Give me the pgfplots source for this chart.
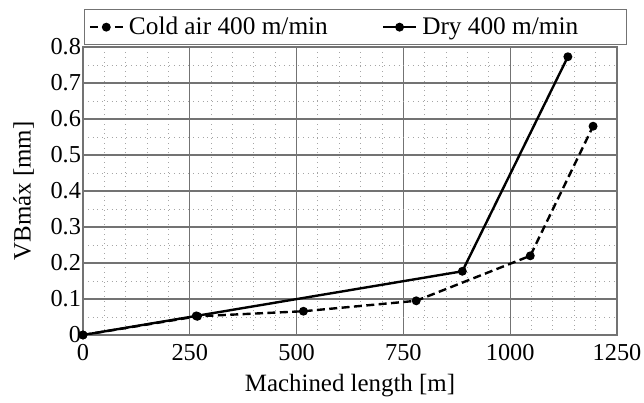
\documentclass[border=0pt]{standalone}
\usepackage{fontspec}
\setmainfont{Liberation Serif}
\usepackage{pgfplots}
\pgfplotsset{compat=1.18}

\definecolor{majgrid}{RGB}{115,115,115}
\definecolor{mingrid}{RGB}{165,165,165}

\begin{document}
\begin{tikzpicture}
% fixed canvas around the axis
\path[use as bounding box] (-41.5bp,-34bp) rectangle (280.5bp,167.5bp);
\begin{axis}[
  at={(0,0)}, anchor=south west,
  width=267bp, height=144bp,
  scale only axis,
  xmin=0, xmax=1250, ymin=0, ymax=0.8,
  xtick={0,250,500,750,1000,1250},
  ytick={0,0.1,0.2,0.3,0.4,0.5,0.6,0.7,0.8},
  yticklabels={0,0.1,0.2,0.3,0.4,0.5,0.6,0.7,0.8},
  minor x tick num=4,
  minor y tick num=1,
  grid=both,
  major grid style={majgrid, line width=0.6pt},
  minor grid style={mingrid, dotted, line width=0.5pt},
  axis line style={majgrid, line width=0.8pt},
  tick style={draw=none},
  /pgf/number format/assume math mode=true,
  /pgf/number format/1000 sep={},
  ticklabel style={font=\fontsize{12.2}{14}\selectfont},
  xticklabel style={yshift=-1bp},
  yticklabel style={xshift=2.5bp},
  label style={font=\fontsize{12.5}{14}\selectfont},
  xlabel={Machined length [m]},
  ylabel={VBmáx [mm]},
  ylabel style={yshift=1.5bp},
  legend columns=2,
  legend style={at={(0,1)}, anchor=south west, xshift=0.5bp, yshift=1bp,
    draw=majgrid, line width=0.6pt, inner xsep=2bp, inner ysep=1.5bp,
    font=\fontsize{12.7}{14}\selectfont,
    /tikz/every odd column/.append style={column sep=0.5bp},
    /tikz/every even column/.append style={column sep=25bp}},
  legend image code/.code={
    \draw[mark repeat=2, mark phase=2] plot coordinates {(0bp,0bp) (8.25bp,0bp) (16.5bp,0bp)};
  },
]
\addplot[black, line width=1.2pt, dash pattern=on 4bp off 2.2bp,
  mark=*, mark size=1.6pt, mark options={solid}]
  coordinates {(0,0) (268,0.052) (516,0.066) (780,0.095) (1047,0.220) (1194,0.580)};
\addlegendentry{Cold air 400 m/min}
\addplot[black, line width=1.2pt,
  mark=*, mark size=1.6pt]
  coordinates {(0,0) (265,0.053) (888,0.177) (1135,0.773)};
\addlegendentry{Dry 400 m/min\hspace*{20bp}}
\end{axis}
\end{tikzpicture}
\end{document}
